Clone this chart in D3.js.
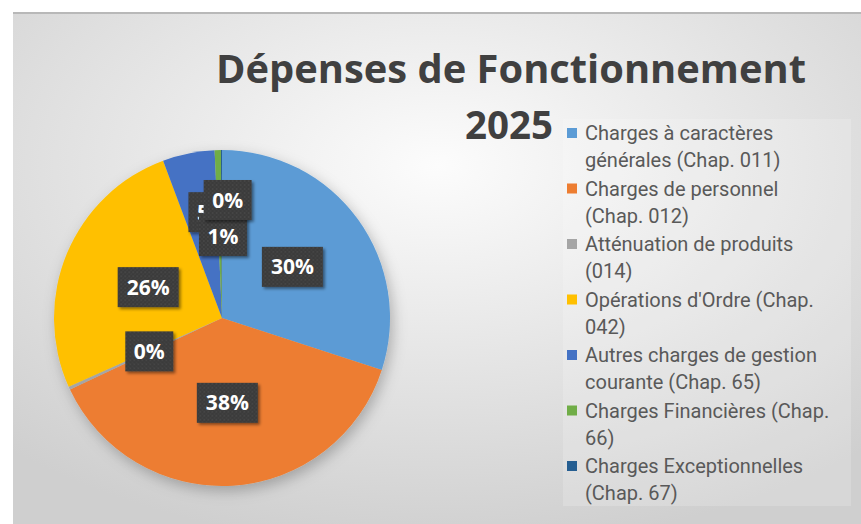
<!DOCTYPE html>
<html>
<head>
<meta charset="utf-8">
<script src="https://cdn.jsdelivr.net/npm/d3@7"></script>
<style>
  body { margin: 0; background: #fff; }
  svg { display: block; }
</style>
</head>
<body>
<div id="chart"></div>
<script>
// Chart size
var w = 861;
var h = 524;

// Data
var categories = [
  'Charges à caractères générales (Chap. 011)',
  'Charges de personnel (Chap. 012)',
  'Atténuation de produits (014)',
  "Opérations d'Ordre (Chap. 042)",
  'Autres charges de gestion courante (Chap. 65)',
  'Charges Financières (Chap. 66)',
  'Charges Exceptionnelles (Chap. 67)'
];
// legend lines as wrapped in the picture
var legendLines = [
  ['Charges à caractères', 'générales (Chap. 011)'],
  ['Charges de personnel', '(Chap. 012)'],
  ['Atténuation de produits', '(014)'],
  ["Opérations d'Ordre (Chap.", '042)'],
  ['Autres charges de gestion', 'courante (Chap. 65)'],
  ['Charges Financières (Chap.', '66)'],
  ['Charges Exceptionnelles', '(Chap. 67)']
];
// shares in percent
var values = [30, 38, 0.3, 26, 5, 0.6, 0.1];
var colors = ['#5B9BD5', '#ED7D31', '#A5A5A5', '#FFC000', '#4472C4', '#70AD47', '#255E91'];

var title = ['Dépenses de Fonctionnement', '2025'];

// label distance from centre, per slice (Excel best fit pushes small ones apart)
var labelRadius = [87, 85, 80, 80, 108, 82, 118];
var labelNudge = [0, 0, 0, 0, 12, 3, 6];

var svg = d3.select('#chart')
  .append('svg')
  .attr('width', w)
  .attr('height', h);

var defs = svg.append('defs');

var bg = defs.append('radialGradient')
  .attr('id', 'bg')
  .attr('cx', '50%')
  .attr('cy', '30%')
  .attr('r', '75%');
bg.append('stop').attr('offset', '0%').attr('stop-color', '#fcfcfc');
bg.append('stop').attr('offset', '100%').attr('stop-color', '#cfcfcf');

var pieShadow = defs.append('filter')
  .attr('id', 'pieShadow')
  .attr('x', '-20%').attr('y', '-20%')
  .attr('width', '140%').attr('height', '140%');
pieShadow.append('feDropShadow')
  .attr('dx', 3).attr('dy', 5)
  .attr('stdDeviation', 7)
  .attr('flood-color', '#000')
  .attr('flood-opacity', 0.25);

var boxShadow = defs.append('filter')
  .attr('id', 'boxShadow')
  .attr('x', '-20%').attr('y', '-20%')
  .attr('width', '150%').attr('height', '150%');
boxShadow.append('feDropShadow')
  .attr('dx', 2).attr('dy', 2)
  .attr('stdDeviation', 1.5)
  .attr('flood-color', '#000')
  .attr('flood-opacity', 0.45);

// dotted texture of label boxes
var dots = defs.append('pattern')
  .attr('id', 'dots')
  .attr('width', 4).attr('height', 4)
  .attr('patternUnits', 'userSpaceOnUse');
dots.append('rect').attr('width', 4).attr('height', 4).attr('fill', '#3a3a3a');
dots.append('circle').attr('cx', 1).attr('cy', 1).attr('r', 0.7).attr('fill', '#555');
dots.append('circle').attr('cx', 3).attr('cy', 3).attr('r', 0.7).attr('fill', '#4a4a4a');

// Chart area
svg.append('rect')
  .attr('x', 13).attr('y', 12)
  .attr('width', w - 13).attr('height', h - 12)
  .attr('fill', 'url(#bg)');
svg.append('line')
  .attr('x1', 13).attr('x2', w)
  .attr('y1', 13).attr('y2', 13)
  .attr('stroke', '#b8b8b8')
  .attr('stroke-width', 2);

// Title
svg.append('text')
  .attr('x', 216)
  .attr('y', 83)
  .attr('textLength', 590)
  .attr('lengthAdjust', 'spacingAndGlyphs')
  .attr('font-family', 'Open Sans, sans-serif')
  .attr('font-weight', 'bold')
  .attr('font-size', 39)
  .attr('fill', '#404040')
  .text(title[0]);
svg.append('text')
  .attr('x', 465)
  .attr('y', 139)
  .attr('textLength', 88)
  .attr('lengthAdjust', 'spacingAndGlyphs')
  .attr('font-family', 'Open Sans, sans-serif')
  .attr('font-weight', 'bold')
  .attr('font-size', 39)
  .attr('fill', '#404040')
  .text(title[1]);

// Pie
var cx = 222;
var cy = 318;
var radius = 168;

var pie = d3.pie().sort(null).value(d => d);
var arcs = pie(values);
var arc = d3.arc().innerRadius(0).outerRadius(radius);

var pieGroup = svg.append('g')
  .attr('transform', `translate(${cx}, ${cy})`);

pieGroup.append('g')
  .attr('filter', 'url(#pieShadow)')
  .selectAll('path')
  .data(arcs)
  .enter()
  .append('path')
  .attr('d', arc)
  .attr('fill', (d, i) => colors[i]);

// Labels (the one of slice 4 ends up almost hidden, as in Excel)
var fmt = d3.format('.0f');
var labelGroup = pieGroup.append('g');
arcs.forEach(function (a, i) {
  var lab = d3.arc().innerRadius(labelRadius[i]).outerRadius(labelRadius[i]);
  var c = lab.centroid(a);
  var g = labelGroup.append('g')
    .attr('transform', `translate(${c[0] + labelNudge[i]}, ${c[1]})`);
  var t = fmt(values[i]) + '%';
  var bw = t.length === 2 ? 48 : 61;
  g.append('rect')
    .attr('x', -bw / 2).attr('y', -20)
    .attr('width', bw).attr('height', 40)
    .attr('fill', 'url(#dots)')
    .attr('filter', 'url(#boxShadow)');
  g.append('text')
    .attr('text-anchor', 'middle')
    .attr('dy', '0.36em')
    .attr('font-family', 'Open Sans, sans-serif')
    .attr('font-weight', 'bold')
    .attr('font-size', 21)
    .attr('fill', '#fff')
    .text(t);
});

// Legend
var legend = svg.append('g');
legend.append('rect')
  .attr('x', 563).attr('y', 119)
  .attr('width', 288).attr('height', 387)
  .attr('fill', '#fff')
  .attr('fill-opacity', 0.18);

var itemH = 55.5;
var lineH = 27;
var items = legend.selectAll('g.item')
  .data(legendLines)
  .enter()
  .append('g')
  .attr('class', 'item')
  .attr('transform', (d, i) => `translate(567, ${133 + i * itemH})`);

items.append('rect')
  .attr('x', 0).attr('y', -5)
  .attr('width', 10).attr('height', 10)
  .attr('fill', (d, i) => colors[i]);

items.each(function (d) {
  var txt = d3.select(this).append('text')
    .attr('font-family', 'Roboto, sans-serif')
    .attr('font-size', 20)
    .attr('fill', '#595959');
  d.forEach(function (line, k) {
    txt.append('tspan')
      .attr('x', 18)
      .attr('y', k * lineH + 7)
      .text(line);
  });
});
</script>
</body>
</html>
